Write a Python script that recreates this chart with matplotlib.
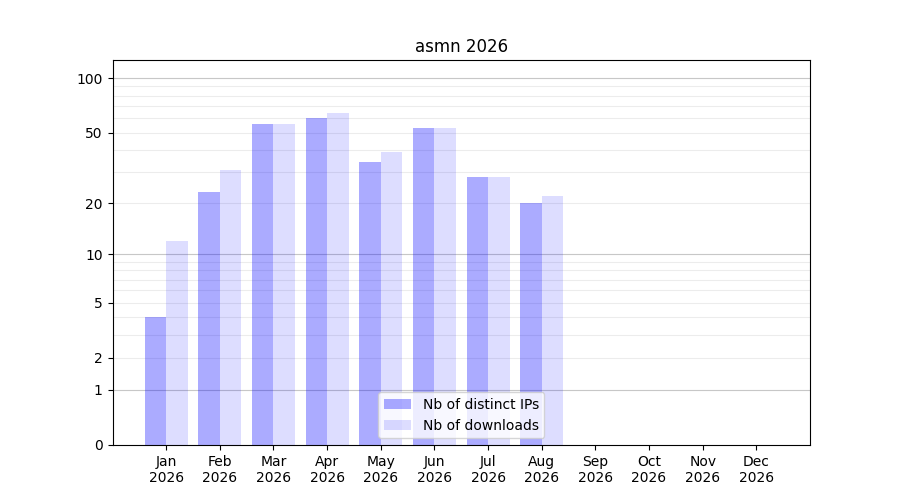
import numpy as np
import matplotlib
matplotlib.use("Agg")
import matplotlib.pyplot as plt

months = ["Jan", "Feb", "Mar", "Apr", "May", "Jun", "Jul", "Aug", "Sep", "Oct", "Nov", "Dec"]
year = "2026"
distinct_ips = [4, 23, 56, 60, 34, 53, 28, 20, 0, 0, 0, 0]
downloads = [12, 31, 56, 64, 39, 53, 28, 22, 0, 0, 0, 0]
ytick_values = [0, 1, 2, 5, 10, 20, 50, 100]
major_grid = [1, 10, 100]
minor_grid = [2, 3, 4, 5, 6, 7, 8, 9, 20, 30, 40, 50, 60, 70, 80, 90]

def fwd(x):
    return np.log10(np.clip(1 + np.asarray(x, dtype=float), 1e-12, None))

def inv(y):
    return 10 ** np.asarray(y, dtype=float) - 1

fig, ax = plt.subplots(figsize=(9, 5), dpi=100)
x = np.arange(len(months))
w = 0.4
ax.bar(x - w / 2, distinct_ips, width=w, color="blue", alpha=0.33, label="Nb of distinct IPs")
ax.bar(x + w / 2, downloads, width=w, color="blue", alpha=0.133, label="Nb of downloads")

ax.set_yscale("function", functions=(fwd, inv))
ax.set_ylim(0, 126)
ax.set_yticks(ytick_values)
ax.set_yticklabels([str(v) for v in ytick_values])
ax.yaxis.set_minor_locator(matplotlib.ticker.NullLocator())
for g in major_grid:
    ax.axhline(g, color="#b0b0b0", lw=0.8, alpha=0.7, zorder=0.5)
for g in minor_grid:
    ax.axhline(g, color="#e0e0e0", lw=0.8, alpha=0.6, zorder=0.5)

ax.set_xticks(x)
ax.set_xticklabels([f"{m}\n{year}" for m in months])
ax.set_xlim(-1, len(months))
ax.set_title("asmn 2026")
ax.legend(loc="lower center")
fig.savefig("out.png", dpi=100)
